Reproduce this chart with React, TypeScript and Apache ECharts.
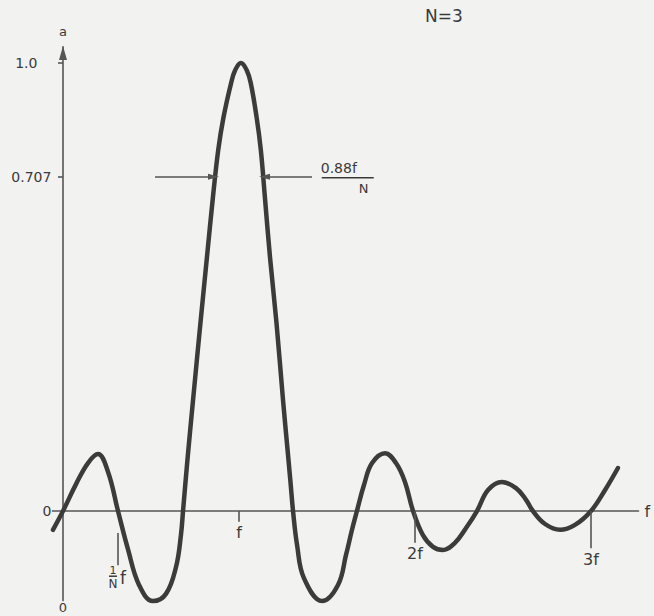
import React, { useEffect, useRef } from "react";
import * as echarts from "echarts";

// Curve (x in units of f, y in units of the peak height)
const CURVE_X = [
  -0.057, 0, 0.074, 0.142, 0.199, 0.256, 0.3125, 0.369, 0.432, 0.511, 0.585, 0.642, 0.67, 0.682,
  0.707, 0.739, 0.781, 0.818, 0.852, 0.882, 0.912, 0.955, 0.978, 1.011, 1.044, 1.067, 1.1, 1.124,
  1.147, 1.176, 1.213, 1.25, 1.276, 1.293, 1.307, 1.33, 1.369, 1.472, 1.5625, 1.608, 1.642, 1.67,
  1.71, 1.756, 1.83, 1.892, 1.943, 1.989, 2.045, 2.102, 2.159, 2.227, 2.29, 2.352, 2.415, 2.494,
  2.574, 2.631, 2.67, 2.739, 2.824, 2.909, 3.0, 3.08, 3.153,
];
const CURVE_Y = [
  -0.042, 0, 0.06, 0.107, 0.127, 0.087, 0, -0.085, -0.165, -0.201, -0.185, -0.125, -0.054, 0,
  0.114, 0.248, 0.42, 0.567, 0.701, 0.806, 0.879, 0.955, 0.984, 1.0, 0.984, 0.955, 0.879, 0.806,
  0.701, 0.567, 0.42, 0.248, 0.136, 0.0625, 0, -0.076, -0.15, -0.201, -0.165, -0.098, -0.042, 0,
  0.058, 0.107, 0.129, 0.107, 0.065, 0, -0.054, -0.08, -0.087, -0.071, -0.038, 0, 0.047, 0.065,
  0.051, 0.025, 0, -0.029, -0.042, -0.031, 0, 0.047, 0.096,
];

// Axis ticks
const Y_TICK_VALUES = [0, 0.746, 1.0]; // drawn heights of the labelled levels
const Y_TICK_LABELS = ["0", "0.707", "1.0"];
const X_TICK_VALUES = [1, 2, 3];
const X_TICK_LABELS = ["f", "2f", "3f"];
const X_TICK_DEPTH = [0.024, 0.071, 0.083];
const SUB_TICK_X = 0.3125; // 1/N f
const SUB_TICK_RANGE = [-0.049, -0.121];

// Half-power width annotation
const HALF_LEVEL = 0.746;
const HALF_LEFT = [0.523, 0.855];
const HALF_RIGHT = [1.415, 1.145];

const INK = "#3a3a3a";
const FONT = "DejaVu Sans";

export default function App() {
  const ref = useRef<HTMLDivElement>(null);

  useEffect(() => {
    if (!ref.current) return;
    const chart = echarts.init(ref.current, undefined, { renderer: "svg" });

    const tickLines: any[] = X_TICK_VALUES.map((v, i) => [
      { coord: [v, 0], symbol: "none" },
      {
        coord: [v, -X_TICK_DEPTH[i]],
        symbol: "none",
        label: { show: true, position: "end", formatter: X_TICK_LABELS[i], distance: 3 },
      },
    ]);
    tickLines.push([
      { coord: [SUB_TICK_X, SUB_TICK_RANGE[0]], symbol: "none" },
      { coord: [SUB_TICK_X, SUB_TICK_RANGE[1]], symbol: "none", label: { show: false } },
    ]);
    const arrows = [
      [
        { coord: [HALF_LEFT[0], HALF_LEVEL], symbol: "none" },
        { coord: [HALF_LEFT[1], HALF_LEVEL], symbol: "triangle", symbolSize: [6, 11], label: { show: false } },
      ],
      [
        { coord: [HALF_RIGHT[0], HALF_LEVEL], symbol: "none" },
        { coord: [HALF_RIGHT[1], HALF_LEVEL], symbol: "triangle", symbolSize: [6, 11], label: { show: false } },
      ],
    ];

    const option: any = {
      animation: false,
      backgroundColor: "transparent",
      textStyle: { fontFamily: FONT, color: INK },
      title: {
        text: "N=3",
        left: 420,
        top: 2,
        textStyle: { fontFamily: FONT, fontSize: 17, fontWeight: "normal", color: INK },
      },
      grid: { left: 52.44, top: 46.9, width: 586.08, height: 553.7 },
      xAxis: {
        type: "value",
        min: -0.06,
        max: 3.27,
        name: "f",
        nameLocation: "end",
        nameGap: 6,
        nameTextStyle: { fontFamily: FONT, fontSize: 16, color: INK },
        axisLine: { onZero: true, lineStyle: { color: "#555", width: 1.6 } },
        axisTick: { show: false },
        axisLabel: { show: false },
        splitLine: { show: false },
      },
      yAxis: {
        type: "value",
        min: -0.2,
        max: 1.036,
        name: "a",
        nameLocation: "end",
        nameGap: 9,
        nameTextStyle: { fontFamily: FONT, fontSize: 13, color: INK },
        axisLine: {
          onZero: true,
          symbol: ["none", "triangle"],
          symbolSize: [8, 14],
          symbolOffset: [0, -6],
          lineStyle: { color: "#555", width: 1.6 },
        },
        axisTick: {
          show: true,
          customValues: Y_TICK_VALUES.slice(1),
          length: 5,
          lineStyle: { color: "#555", width: 1.6 },
        },
        axisLabel: {
          show: true,
          customValues: Y_TICK_VALUES,
          margin: 1,
          fontFamily: FONT,
          fontSize: 14,
          color: INK,
          formatter: (v: number) => {
            const i = Y_TICK_VALUES.findIndex((t) => Math.abs(t - v) < 1e-6);
            const s = i >= 0 ? Y_TICK_LABELS[i] : "";
            return i === 2 ? `{w|${s}}` : s;
          },
          rich: { w: { fontFamily: FONT, fontSize: 14, color: INK, padding: [0, 14, 0, 0] } },
        },
        splitLine: { show: false },
      },
      series: [
        {
          type: "line",
          data: CURVE_X.map((x, i) => [x, CURVE_Y[i]]),
          smooth: 0.4,
          showSymbol: false,
          clip: false,
          lineStyle: { color: "#3b3b3b", width: 4.5, cap: "round", join: "round" },
          markLine: {
            silent: true,
            symbol: "none",
            lineStyle: { color: "#555", width: 1.6, type: "solid" },
            label: { fontFamily: FONT, fontSize: 16, color: INK },
            emphasis: { disabled: true },
            data: [...tickLines, ...arrows],
          },
        },
      ],
    };
    chart.setOption(option);

    const p = (x: number, y: number) => chart.convertToPixel({ gridIndex: 0 }, [x, y]) as number[];
    const A = p(HALF_RIGHT[0] + 0.055, HALF_LEVEL);
    const B = p(SUB_TICK_X, SUB_TICK_RANGE[1]);
    const O = p(0, -0.2);
    const txt = (x: number, y: number, text: string, size: number, align = "left") => ({
      type: "text",
      x,
      y,
      style: { text, fontFamily: FONT, fontSize: size, fill: INK, align, verticalAlign: "middle" },
    });
    const bar = (x1: number, x2: number, y: number) => ({
      type: "line",
      shape: { x1, y1: y, x2, y2: y },
      style: { stroke: INK, lineWidth: 1.5 },
    });
    chart.setOption({
      graphic: [
        txt(A[0] - 1, A[1] - 9, "0.88f", 14),
        bar(A[0], A[0] + 52, A[1] + 1),
        txt(A[0] + 42, A[1] + 12, "N", 13, "center"),
        txt(B[0] - 5, B[1] + 5, "1", 11, "center"),
        bar(B[0] - 9, B[0] - 1, B[1] + 11),
        txt(B[0] - 5, B[1] + 19, "N", 12, "center"),
        txt(B[0] + 2, B[1] + 13, "f", 17),
        txt(O[0], O[1] + 6.5, "0", 13, "center"),
      ],
    });

    return () => chart.dispose();
  }, []);

  return (
    <div
      style={{ position: "absolute", left: 0, top: 0, width: 654, height: 616, background: "#f2f2f1" }}
    >
      <div ref={ref} style={{ width: 654, height: 616 }} />
    </div>
  );
}
